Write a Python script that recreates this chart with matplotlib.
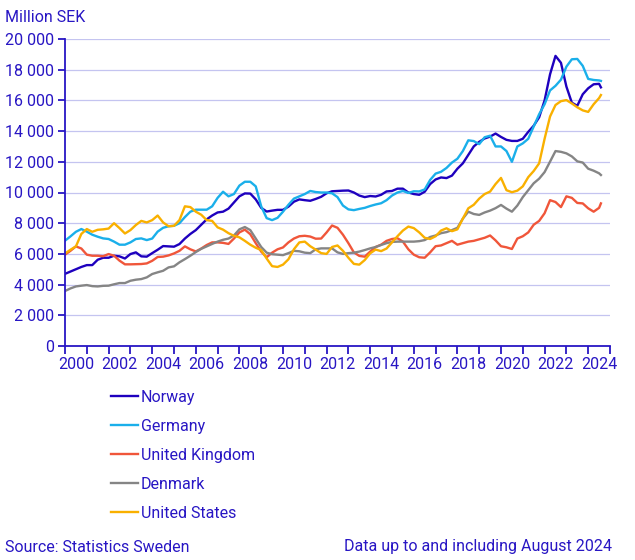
import numpy as np
import pandas as pd
import matplotlib
matplotlib.use("Agg")
from matplotlib import pyplot as plt
from matplotlib.ticker import FuncFormatter

plt.rcParams["font.family"] = ["Roboto", "DejaVu Sans"]

# quarterly readings (Jan, Apr, Jul, Oct) from 2000 up to Jul 2024, then Aug 2024
dates = list(pd.date_range("2000-01-01", "2024-07-01", freq="QS")) + [pd.Timestamp("2024-08-01")]

norway = [
    4700, 4850, 5000, 5150,
    5270, 5270, 5620, 5750,
    5750, 5880, 5840, 5700,
    5990, 6100, 5840, 5820,
    6050, 6270, 6510, 6490,
    6470, 6640, 7000, 7300,
    7550, 7900, 8250, 8500,
    8700, 8750, 8950, 9350,
    9750, 9940, 9930, 9550,
    9000, 8760, 8820, 8870,
    8870, 9080, 9400, 9550,
    9500, 9460, 9580, 9720,
    9950, 10080, 10100, 10120,
    10130, 10000, 9800, 9700,
    9770, 9740, 9850, 10070,
    10100, 10250, 10250, 10000,
    9900, 9850, 10050, 10550,
    10850, 10980, 10940, 11100,
    11550, 11900, 12450, 13000,
    13300, 13520, 13640, 13840,
    13620, 13430, 13360, 13360,
    13500, 13950, 14350, 14900,
    16000, 17700, 18900, 18450,
    16900, 15850, 15650, 16400,
    16790, 17050, 17080,
    16850,
]
germany = [
    6860, 7140, 7440, 7620,
    7450, 7250, 7120, 7010,
    6970, 6800, 6600, 6600,
    6750, 6970, 7010, 6900,
    7000, 7450, 7700, 7800,
    7830, 8000, 8400, 8750,
    8880, 8880, 8880, 9100,
    9650, 10050, 9750, 9900,
    10450, 10700, 10700, 10400,
    9100, 8330, 8200, 8350,
    8750, 9200, 9600, 9750,
    9900, 10100, 10030, 10000,
    10000, 9950, 9700, 9150,
    8900, 8850, 8930, 9000,
    9120, 9220, 9300, 9500,
    9800, 10000, 10100, 9970,
    10080, 10070, 10200, 10820,
    11230, 11350, 11600, 11950,
    12200, 12700, 13400, 13350,
    13150, 13600, 13700, 13000,
    13000, 12700, 12000, 13000,
    13200, 13500, 14300, 15100,
    15750, 16650, 16950, 17350,
    18200, 18680, 18700, 18250,
    17400, 17330, 17300,
    17270,
]
uk = [
    5950, 6200, 6490, 6350,
    5950, 5880, 5880, 5850,
    5990, 5880, 5560, 5320,
    5320, 5330, 5340, 5380,
    5550, 5800, 5820, 5900,
    6030, 6200, 6490, 6300,
    6160, 6350, 6580, 6750,
    6750, 6720, 6650, 7000,
    7400, 7580, 7280, 6700,
    6150, 5780, 6080, 6300,
    6420, 6750, 7000, 7150,
    7180, 7130, 6990, 7000,
    7400, 7850, 7700, 7250,
    6700, 6100, 5870, 5820,
    6150, 6450, 6600, 6850,
    6970, 7020, 6800, 6300,
    5950, 5780, 5750, 6100,
    6500, 6550, 6700, 6850,
    6600, 6700, 6800, 6850,
    6950, 7050, 7200, 6880,
    6500, 6430, 6320, 7000,
    7150, 7400, 7900, 8150,
    8650, 9500, 9380, 9050,
    9750, 9650, 9320, 9290,
    8970, 8750, 9000,
    9290,
]
denmark = [
    3580, 3750, 3880, 3930,
    3970, 3900, 3880, 3920,
    3930, 4020, 4100, 4100,
    4250, 4320, 4360, 4470,
    4690, 4800, 4900, 5120,
    5190, 5450, 5660, 5880,
    6120, 6330, 6490, 6650,
    6800, 6920, 7000, 7200,
    7600, 7750, 7550, 7000,
    6450, 6080, 5980, 5950,
    5920, 6050, 6200, 6170,
    6080, 6050, 6300, 6360,
    6360, 6360, 6100, 6000,
    6050, 6080, 6150, 6250,
    6360, 6450, 6580, 6700,
    6780, 6800, 6800, 6800,
    6800, 6830, 6900, 7100,
    7200, 7350, 7420, 7550,
    7700, 8300, 8750, 8600,
    8540, 8700, 8820, 8980,
    9190, 8950, 8750, 9150,
    9700, 10150, 10600, 10900,
    11330, 12010, 12700, 12650,
    12550, 12350, 12030, 11950,
    11550, 11420, 11250,
    11140,
]
usa = [
    6030, 6270, 6490, 7300,
    7620, 7440, 7570, 7600,
    7650, 8000, 7680, 7330,
    7550, 7880, 8150, 8050,
    8200, 8500, 8050, 7800,
    7830, 8200, 9100, 9050,
    8750, 8550, 8200, 8150,
    7730, 7580, 7350, 7180,
    7080, 6850, 6600, 6400,
    6250, 5700, 5200, 5150,
    5300, 5650, 6300, 6750,
    6800, 6500, 6280, 6050,
    6000, 6450, 6550, 6200,
    5750, 5350, 5300, 5600,
    6040, 6280, 6180, 6350,
    6750, 7150, 7520, 7780,
    7680, 7400, 7050, 6970,
    7150, 7520, 7670, 7480,
    7600, 8300, 8970, 9200,
    9600, 9900, 10060, 10550,
    10950, 10150, 10020, 10120,
    10400, 11000, 11400, 11900,
    13500, 14950, 15700, 15950,
    16020, 15800, 15550, 15350,
    15250, 15750, 16150,
    16350,
]

names = ["Norway", "Germany", "United Kingdom", "Denmark", "United States"]
series = [norway, germany, uk, denmark, usa]
colors = ["#1E00BE", "#1AAFEA", "#F0563A", "#858585", "#F9B000"]
text_col = "#2816C4"
grid_col = "#C4C4F0"

x = np.array([d.year + (d.month - 1) / 12 for d in dates])

fig = plt.figure(figsize=(6.35, 5.6), dpi=100)
ax = fig.add_axes([65 / 635, 1 - 346 / 560, 545 / 635, 307 / 560])

handles = []
for name, vals, col in zip(names, series, colors):
    ln, = ax.plot(x, vals, color=col, lw=1.7, solid_joinstyle="round", label=name)
    handles.append(ln)

ax.set_xlim(2000, 2025)
ax.set_ylim(0, 20000)
ax.set_yticks(range(0, 20001, 2000))
ax.yaxis.set_major_formatter(FuncFormatter(lambda v, p: f"{int(v):,}".replace(",", " ")))
ax.set_xticks(range(2000, 2026))
ax.set_xticklabels([])
ax.set_xticks([y + 0.5 for y in range(2000, 2025, 2)], minor=True)
ax.set_xticklabels([str(y) for y in range(2000, 2025, 2)], minor=True)
ax.tick_params(axis="x", which="major", length=6, width=1.3, color=text_col)
ax.tick_params(axis="x", which="minor", length=0, pad=8, labelsize=11.5, labelcolor=text_col)
ax.tick_params(axis="y", length=5, width=1.3, color=text_col, pad=3, labelsize=11.5, labelcolor=text_col)

ax.grid(axis="y", color=grid_col, lw=0.9)
ax.set_axisbelow(True)
for s in ["top", "right"]:
    ax.spines[s].set_visible(False)
for s in ["left", "bottom"]:
    ax.spines[s].set_color(text_col)
    ax.spines[s].set_linewidth(1.3)

fig.text(5 / 635, 1 - 17 / 560, "Million SEK", fontsize=11.5, color=text_col, va="center")
fig.text(5 / 635, 1 - 547 / 560, "Source: Statistics Sweden", fontsize=11.5, color=text_col, va="center")
fig.text(612 / 635, 1 - 547 / 560, "Data up to and including August 2024", fontsize=11.5,
         color=text_col, va="center", ha="right")

leg = fig.legend(handles=handles, loc="upper left", bbox_to_anchor=(111 / 635, 1 - 390 / 560),
                 frameon=False, fontsize=11.5, handlelength=1.66, handletextpad=0.22,
                 labelspacing=0.87, borderpad=0, borderaxespad=0)
for t in leg.get_texts():
    t.set_color(text_col)

fig.savefig("out.png", dpi=100)
